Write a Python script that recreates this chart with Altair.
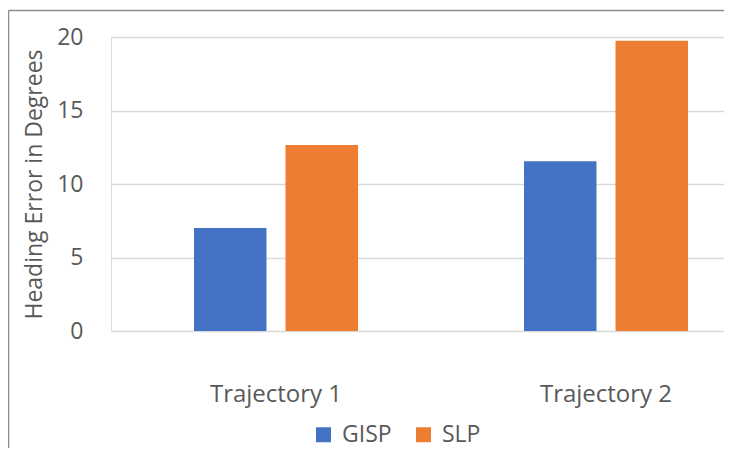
import altair as alt
import pandas as pd

categories = ["Trajectory 1", "Trajectory 2"]
series = ["GISP", "SLP"]
gisp = [7.0, 11.55]
slp = [12.65, 19.75]
y_ticks = [0, 5, 10, 15, 20]
colors = ["#4472C4", "#ED7D31"]

rows = []
for i, c in enumerate(categories):
    rows.append({"Trajectory": c, "Method": "GISP", "Error": gisp[i]})
    rows.append({"Trajectory": c, "Method": "SLP", "Error": slp[i]})
df = pd.DataFrame(rows)

W = 613
H = 294
TXT = "#595959"
FONT = "Open Sans"

bars = alt.Chart(df).mark_bar().encode(
    x=alt.X("Trajectory:N", sort=categories,
            scale=alt.Scale(range=[0, 660], paddingInner=0, paddingOuter=0),
            axis=alt.Axis(title=None, labelAngle=0, domain=False, ticks=False, grid=False,
                          labelFontSize=24, labelColor=TXT, labelFont=FONT, labelPadding=51)),
    xOffset=alt.XOffset("Method:N", sort=series,
                        scale=alt.Scale(paddingInner=0.208, paddingOuter=0.907)),
    y=alt.Y("Error:Q", scale=alt.Scale(domain=[0, 20], nice=False),
            axis=alt.Axis(title="Heading Error in Degrees", values=y_ticks, domain=False, ticks=False,
                          grid=True, gridColor="#d9d9d9", gridWidth=1.3,
                          labelFontSize=23, labelColor=TXT, labelFont=FONT, labelPadding=28,
                          titleFontSize=23, titleColor=TXT, titleFont=FONT, titleFontWeight="normal",
                          titlePadding=10)),
    color=alt.Color("Method:N", sort=series,
                    scale=alt.Scale(domain=series, range=colors),
                    legend=alt.Legend(title=None, orient="none", direction="horizontal",
                                      legendX=201, legendY=386,
                                      symbolType="square", symbolSize=225, symbolStrokeWidth=0,
                                      labelFontSize=23, labelColor=TXT, labelFont=FONT,
                                      labelOffset=7, columnPadding=20)),
)

frame_df = pd.DataFrame({"f": [0]})
frame_left = alt.Chart(frame_df).mark_rule(stroke="#8c8c8c", strokeWidth=1.5).encode(
    x=alt.value(-102.5), y=alt.value(-26.5), y2=alt.value(H + 121),
)
frame_top = alt.Chart(frame_df).mark_rule(stroke="#8c8c8c", strokeWidth=1.5).encode(
    x=alt.value(-102.5), x2=alt.value(W), y=alt.value(-26.5),
)

chart = alt.layer(frame_left, frame_top, bars).properties(
    width=W, height=H,
    autosize=alt.AutoSizeParams(type="none"),
    padding={"left": 103, "top": 29, "right": 0, "bottom": 117},
).configure_view(stroke=None).configure(font=FONT)

chart.save("out.html", embed_options={"renderer": "svg", "actions": False})
